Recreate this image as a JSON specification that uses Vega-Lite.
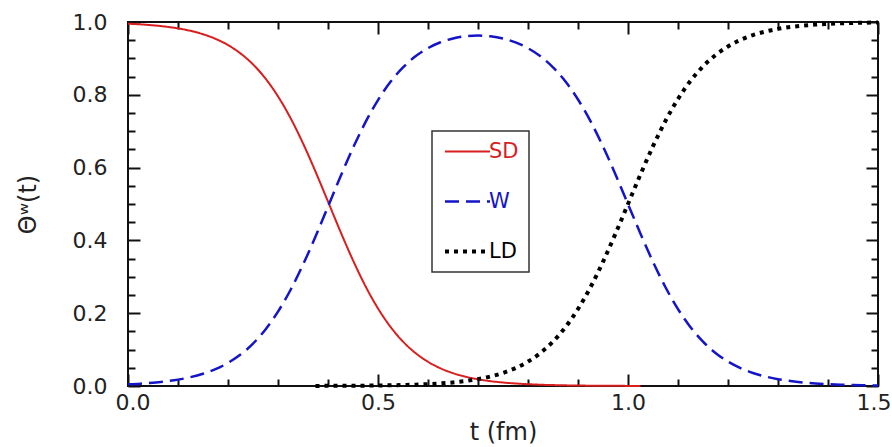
{
  "$schema": "https://vega.github.io/schema/vega-lite/v6.json",
  "width": 750,
  "height": 364,
  "autosize": {"type": "none"},
  "padding": {"left": 128, "top": 22, "right": 14, "bottom": 61},
  "background": "white",
  "config": {
    "view": {"stroke": "#111", "strokeWidth": 2},
    "axis": {
      "labelFont": "DejaVu Sans",
      "labelFontSize": 22,
      "labelColor": "#222",
      "titleFont": "DejaVu Sans",
      "titleFontSize": 24,
      "titleFontWeight": "normal",
      "titleColor": "#222",
      "domain": false,
      "grid": false,
      "tickColor": "#111",
      "tickWidth": 2
    }
  },
  "data": {
    "values": [
      {"t": 0, "s": "SD", "v": 0.9953}, {"t": 0.025, "s": "SD", "v": 0.9935}, {"t": 0.05, "s": "SD", "v": 0.9909}, {"t": 0.075, "s": "SD", "v": 0.9874},
      {"t": 0.1, "s": "SD", "v": 0.9825}, {"t": 0.125, "s": "SD", "v": 0.9757}, {"t": 0.15, "s": "SD", "v": 0.9664}, {"t": 0.175, "s": "SD", "v": 0.9538},
      {"t": 0.2, "s": "SD", "v": 0.9366}, {"t": 0.225, "s": "SD", "v": 0.9137}, {"t": 0.25, "s": "SD", "v": 0.8836}, {"t": 0.275, "s": "SD", "v": 0.8446},
      {"t": 0.3, "s": "SD", "v": 0.7957}, {"t": 0.325, "s": "SD", "v": 0.7363}, {"t": 0.35, "s": "SD", "v": 0.6667}, {"t": 0.375, "s": "SD", "v": 0.5891},
      {"t": 0.4, "s": "SD", "v": 0.5067}, {"t": 0.425, "s": "SD", "v": 0.4239}, {"t": 0.45, "s": "SD", "v": 0.3453}, {"t": 0.475, "s": "SD", "v": 0.2742},
      {"t": 0.5, "s": "SD", "v": 0.213}, {"t": 0.525, "s": "SD", "v": 0.1625}, {"t": 0.55, "s": "SD", "v": 0.122}, {"t": 0.575, "s": "SD", "v": 0.0906},
      {"t": 0.6, "s": "SD", "v": 0.0666}, {"t": 0.625, "s": "SD", "v": 0.0486}, {"t": 0.65, "s": "SD", "v": 0.0353}, {"t": 0.675, "s": "SD", "v": 0.0256},
      {"t": 0.7, "s": "SD", "v": 0.0185}, {"t": 0.725, "s": "SD", "v": 0.0133}, {"t": 0.75, "s": "SD", "v": 0.0096}, {"t": 0.775, "s": "SD", "v": 0.0069},
      {"t": 0.8, "s": "SD", "v": 0.0049}, {"t": 0.825, "s": "SD", "v": 0.0035}, {"t": 0.85, "s": "SD", "v": 0.0025}, {"t": 0.875, "s": "SD", "v": 0.0018},
      {"t": 0.9, "s": "SD", "v": 0.0013}, {"t": 0.925, "s": "SD", "v": 0.0009}, {"t": 0.95, "s": "SD", "v": 0.0007}, {"t": 0.975, "s": "SD", "v": 0.0005},
      {"t": 1.0, "s": "SD", "v": 0.0003}, {"t": 1.025, "s": "SD", "v": 0.0002},

      {"t": 0, "s": "W", "v": 0.0047}, {"t": 0.025, "s": "W", "v": 0.0065}, {"t": 0.05, "s": "W", "v": 0.0091}, {"t": 0.075, "s": "W", "v": 0.0126},
      {"t": 0.1, "s": "W", "v": 0.0175}, {"t": 0.125, "s": "W", "v": 0.0243}, {"t": 0.15, "s": "W", "v": 0.0336}, {"t": 0.175, "s": "W", "v": 0.0462},
      {"t": 0.2, "s": "W", "v": 0.0634}, {"t": 0.225, "s": "W", "v": 0.0863}, {"t": 0.25, "s": "W", "v": 0.1164}, {"t": 0.275, "s": "W", "v": 0.1554},
      {"t": 0.3, "s": "W", "v": 0.2043}, {"t": 0.325, "s": "W", "v": 0.2637}, {"t": 0.35, "s": "W", "v": 0.3333}, {"t": 0.375, "s": "W", "v": 0.4106},
      {"t": 0.4, "s": "W", "v": 0.4929}, {"t": 0.425, "s": "W", "v": 0.5756}, {"t": 0.45, "s": "W", "v": 0.654}, {"t": 0.475, "s": "W", "v": 0.7248},
      {"t": 0.5, "s": "W", "v": 0.7856}, {"t": 0.525, "s": "W", "v": 0.8356}, {"t": 0.55, "s": "W", "v": 0.8753}, {"t": 0.575, "s": "W", "v": 0.9057},
      {"t": 0.6, "s": "W", "v": 0.9282}, {"t": 0.625, "s": "W", "v": 0.9443}, {"t": 0.65, "s": "W", "v": 0.9548}, {"t": 0.675, "s": "W", "v": 0.9607},
      {"t": 0.7, "s": "W", "v": 0.9626}, {"t": 0.725, "s": "W", "v": 0.9606}, {"t": 0.75, "s": "W", "v": 0.9545}, {"t": 0.775, "s": "W", "v": 0.9439},
      {"t": 0.8, "s": "W", "v": 0.928}, {"t": 0.825, "s": "W", "v": 0.9056}, {"t": 0.85, "s": "W", "v": 0.8755}, {"t": 0.875, "s": "W", "v": 0.8364},
      {"t": 0.9, "s": "W", "v": 0.7872}, {"t": 0.925, "s": "W", "v": 0.7276}, {"t": 0.95, "s": "W", "v": 0.6581}, {"t": 0.975, "s": "W", "v": 0.5809},
      {"t": 1.0, "s": "W", "v": 0.4997}, {"t": 1.025, "s": "W", "v": 0.4184}, {"t": 1.05, "s": "W", "v": 0.3411}, {"t": 1.075, "s": "W", "v": 0.2714},
      {"t": 1.1, "s": "W", "v": 0.2114}, {"t": 1.125, "s": "W", "v": 0.1617}, {"t": 1.15, "s": "W", "v": 0.1219}, {"t": 1.175, "s": "W", "v": 0.0908},
      {"t": 1.2, "s": "W", "v": 0.067}, {"t": 1.225, "s": "W", "v": 0.0491}, {"t": 1.25, "s": "W", "v": 0.0358}, {"t": 1.275, "s": "W", "v": 0.026},
      {"t": 1.3, "s": "W", "v": 0.0188}, {"t": 1.325, "s": "W", "v": 0.0136}, {"t": 1.35, "s": "W", "v": 0.0098}, {"t": 1.375, "s": "W", "v": 0.007},
      {"t": 1.4, "s": "W", "v": 0.0051}, {"t": 1.425, "s": "W", "v": 0.0036}, {"t": 1.45, "s": "W", "v": 0.0026}, {"t": 1.475, "s": "W", "v": 0.0018},
      {"t": 1.5, "s": "W", "v": 0.0013},

      {"t": 0.375, "s": "LD", "v": 0.0003}, {"t": 0.4, "s": "LD", "v": 0.0004}, {"t": 0.425, "s": "LD", "v": 0.0005}, {"t": 0.45, "s": "LD", "v": 0.0007},
      {"t": 0.475, "s": "LD", "v": 0.001}, {"t": 0.5, "s": "LD", "v": 0.0014}, {"t": 0.525, "s": "LD", "v": 0.0019}, {"t": 0.55, "s": "LD", "v": 0.0027},
      {"t": 0.575, "s": "LD", "v": 0.0037}, {"t": 0.6, "s": "LD", "v": 0.0052}, {"t": 0.625, "s": "LD", "v": 0.0071}, {"t": 0.65, "s": "LD", "v": 0.0099},
      {"t": 0.675, "s": "LD", "v": 0.0137}, {"t": 0.7, "s": "LD", "v": 0.0189}, {"t": 0.725, "s": "LD", "v": 0.0261}, {"t": 0.75, "s": "LD", "v": 0.0359},
      {"t": 0.775, "s": "LD", "v": 0.0492}, {"t": 0.8, "s": "LD", "v": 0.0671}, {"t": 0.825, "s": "LD", "v": 0.0909}, {"t": 0.85, "s": "LD", "v": 0.122},
      {"t": 0.875, "s": "LD", "v": 0.1618}, {"t": 0.9, "s": "LD", "v": 0.2115}, {"t": 0.925, "s": "LD", "v": 0.2715}, {"t": 0.95, "s": "LD", "v": 0.3412},
      {"t": 0.975, "s": "LD", "v": 0.4186}, {"t": 1.0, "s": "LD", "v": 0.5}, {"t": 1.025, "s": "LD", "v": 0.5814}, {"t": 1.05, "s": "LD", "v": 0.6588},
      {"t": 1.075, "s": "LD", "v": 0.7285}, {"t": 1.1, "s": "LD", "v": 0.7885}, {"t": 1.125, "s": "LD", "v": 0.8382}, {"t": 1.15, "s": "LD", "v": 0.878},
      {"t": 1.175, "s": "LD", "v": 0.9091}, {"t": 1.2, "s": "LD", "v": 0.9329}, {"t": 1.225, "s": "LD", "v": 0.9508}, {"t": 1.25, "s": "LD", "v": 0.9641},
      {"t": 1.275, "s": "LD", "v": 0.9739}, {"t": 1.3, "s": "LD", "v": 0.9811}, {"t": 1.325, "s": "LD", "v": 0.9863}, {"t": 1.35, "s": "LD", "v": 0.9901},
      {"t": 1.375, "s": "LD", "v": 0.9929}, {"t": 1.4, "s": "LD", "v": 0.9948}, {"t": 1.425, "s": "LD", "v": 0.9963}, {"t": 1.45, "s": "LD", "v": 0.9973},
      {"t": 1.475, "s": "LD", "v": 0.9981}, {"t": 1.5, "s": "LD", "v": 0.9986}
    ]
  },
  "resolve": {"axis": {"x": "independent", "y": "independent"}},
  "layer": [
    {
      "mark": {"type": "line", "interpolate": "monotone", "strokeCap": "butt"},
      "encoding": {
        "x": {"field": "t", "type": "quantitative", "scale": {"domain": [0, 1.5], "nice": false},
          "axis": {"orient": "bottom", "values": [0, 0.5, 1, 1.5], "format": ".1f", "ticks": false, "labelPadding": 6, "title": "t (fm)", "titlePadding": 7, "labelFlush": true, "labelFlushOffset": 13}},
        "y": {"field": "v", "type": "quantitative", "scale": {"domain": [0, 1], "nice": false},
          "axis": {"orient": "left", "values": [0, 0.2, 0.4, 0.6, 0.8, 1], "format": ".1f", "ticks": false, "labelPadding": 21, "title": "Θʷ(t)", "titlePadding": 32, "labelFlush": false}},
        "color": {"field": "s", "type": "nominal",
          "scale": {"domain": ["SD", "W", "LD"], "range": ["#d81e1e", "#1414c8", "#000000"]},
          "legend": {
            "title": null, "orient": "none", "legendX": 304, "legendY": 109,
            "symbolType": "stroke", "symbolSize": 2025, "symbolStrokeWidth": 2.5,
            "labelFont": "DejaVu Sans", "labelFontSize": 21, "labelOffset": 11,
            "padding": 10, "rowPadding": 28, "symbolOffset": 15,
            "strokeColor": "#333", "fillColor": "white",
            "encode": {
              "labels": {"update": {"fill": {"signal": "datum.value === 'SD' ? '#d81e1e' : datum.value === 'W' ? '#1414c8' : '#000000'"}}},
              "symbols": {"update": {"strokeWidth": {"signal": "datum.value === 'LD' ? 4 : datum.value === 'W' ? 2.5 : 2"}}},
              "legend": {"update": {"strokeWidth": {"value": 1.5}}}
            }
          }},
        "strokeDash": {"field": "s", "type": "nominal",
          "scale": {"domain": ["SD", "W", "LD"], "range": [[1, 0], [14, 7], [4, 5]]}},
        "strokeWidth": {"condition": [{"test": "datum.s === 'LD'", "value": 4}, {"test": "datum.s === 'W'", "value": 2.5}], "value": 2}
      }
    },
    {
      "mark": {"type": "point", "opacity": 0},
      "encoding": {
        "x": {"field": "t", "type": "quantitative", "axis": {"orient": "bottom", "values": [0, 0.5, 1, 1.5], "labels": false, "tickSize": -12, "title": null}},
        "y": {"field": "v", "type": "quantitative", "axis": {"orient": "left", "values": [0, 0.2, 0.4, 0.6, 0.8, 1], "labels": false, "tickSize": -12, "title": null}}
      }
    },
    {
      "mark": {"type": "point", "opacity": 0},
      "encoding": {
        "x": {"field": "t", "type": "quantitative", "axis": {"orient": "bottom", "values": [0.1, 0.2, 0.3, 0.4, 0.6, 0.7, 0.8, 0.9, 1.1, 1.2, 1.3, 1.4], "labels": false, "tickSize": -7, "title": null}},
        "y": {"field": "v", "type": "quantitative", "axis": {"orient": "left", "values": [0.05, 0.1, 0.15, 0.25, 0.3, 0.35, 0.45, 0.5, 0.55, 0.65, 0.7, 0.75, 0.85, 0.9, 0.95], "labels": false, "tickSize": -7, "title": null}}
      }
    },
    {
      "mark": {"type": "point", "opacity": 0},
      "encoding": {
        "x": {"field": "t", "type": "quantitative", "axis": {"orient": "top", "values": [0, 0.5, 1, 1.5], "labels": false, "tickSize": -12, "title": null}},
        "y": {"field": "v", "type": "quantitative", "axis": {"orient": "right", "values": [0, 0.2, 0.4, 0.6, 0.8, 1], "labels": false, "tickSize": -12, "title": null}}
      }
    },
    {
      "mark": {"type": "point", "opacity": 0},
      "encoding": {
        "x": {"field": "t", "type": "quantitative", "axis": {"orient": "top", "values": [0.1, 0.2, 0.3, 0.4, 0.6, 0.7, 0.8, 0.9, 1.1, 1.2, 1.3, 1.4], "labels": false, "tickSize": -7, "title": null}},
        "y": {"field": "v", "type": "quantitative", "axis": {"orient": "right", "values": [0.05, 0.1, 0.15, 0.25, 0.3, 0.35, 0.45, 0.5, 0.55, 0.65, 0.7, 0.75, 0.85, 0.9, 0.95], "labels": false, "tickSize": -7, "title": null}}
      }
    }
  ]
}
